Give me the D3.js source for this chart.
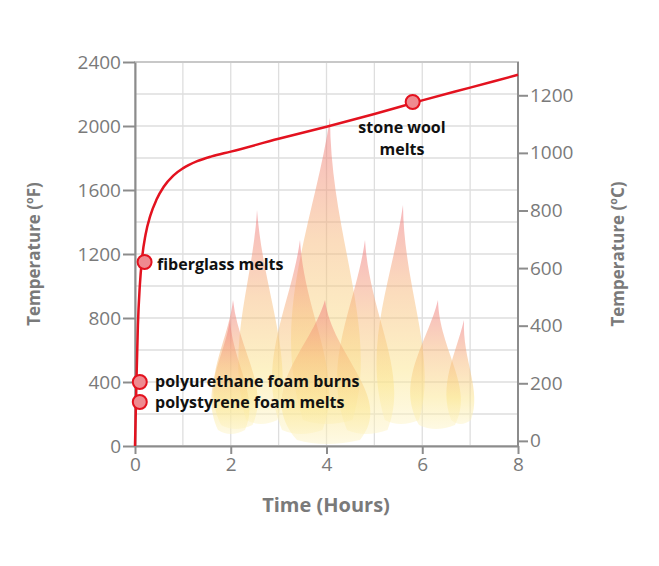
<!DOCTYPE html>
<html><head><meta charset="utf-8">
<script src="https://cdn.jsdelivr.net/npm/d3@7"></script>
<style>body{margin:0;background:#fff}text{font-family:"Open Sans",sans-serif}</style>
</head><body>
<svg id="chart" width="659" height="566"></svg>
<script>
// fire curve (hours, °F)
var curveT = [0, 0.03, 0.06, 0.1, 0.15, 0.22, 0.32, 0.45, 0.6, 0.8, 1.0, 1.3, 1.6, 2, 3, 4, 5, 6, 7, 8];
var curveF = [0, 400, 750, 1000, 1180, 1320, 1440, 1540, 1620, 1690, 1735, 1780, 1810, 1840, 1920, 1995, 2075, 2160, 2240, 2320];
var events = ["polystyrene foam melts", "polyurethane foam burns", "fiberglass melts", "stone wool melts"];
var eventT = [0.1, 0.1, 0.2, 5.8];
var eventF = [275, 400, 1150, 2150];
var fTicks = [0, 400, 800, 1200, 1600, 2000, 2400];
var cTicks = [0, 200, 400, 600, 800, 1000, 1200];
var tTicks = [0, 2, 4, 6, 8];

var svg = d3.select("#chart");
var x = d3.scaleLinear().domain([0, 8]).range([135, 518]);
var y = d3.scaleLinear().domain([0, 2400]).range([446, 62]);
function cToY(c){ return y(c * 1.8 + 32); }
var grey = "#8c8c8c";

// grid
var g = svg.append("g");
g.selectAll("line.v").data(d3.range(1, 9)).enter().append("line")
  .attr("x1", d => x(d)).attr("x2", d => x(d)).attr("y1", 62).attr("y2", 446)
  .attr("stroke", "#dedede").attr("stroke-width", 1.3);
g.selectAll("line.h").data(d3.range(200, 2600, 200)).enter().append("line")
  .attr("x1", 135).attr("x2", 518).attr("y1", d => y(d)).attr("y2", d => y(d))
  .attr("stroke", "#dedede").attr("stroke-width", 1.3);

// flames (decorative)
var defs = svg.append("defs");
var grad = defs.append("linearGradient").attr("id", "fl").attr("x1", 0).attr("x2", 0).attr("y1", 0).attr("y2", 1);
grad.append("stop").attr("offset", "0%").attr("stop-color", "#ee6f78");
grad.append("stop").attr("offset", "40%").attr("stop-color", "#f7b97a");
grad.append("stop").attr("offset", "75%").attr("stop-color", "#fbe58c");
grad.append("stop").attr("offset", "100%").attr("stop-color", "#fdf4c8");
function flame(cx, top, w, bottom, lean){
  var p = d3.path();
  p.moveTo(cx + lean, top);
  p.bezierCurveTo(cx - w * 0.2, top + (bottom - top) * 0.35, cx - w, bottom - (bottom - top) * 0.35, cx - w * 0.4, bottom);
  p.quadraticCurveTo(cx, bottom + 8, cx + w * 0.5, bottom);
  p.bezierCurveTo(cx + w, bottom - (bottom - top) * 0.3, cx + w * 0.1, top + (bottom - top) * 0.4, cx + lean, top);
  return p.toString();
}
var flames = [[325, 118, 55, 420, 5], [260, 210, 35, 420, -3], [400, 205, 38, 420, 3], [235, 300, 35, 425, -2], [435, 300, 40, 425, 3], [300, 240, 45, 430, 0], [365, 240, 45, 430, 0], [230, 320, 30, 430, 0], [460, 320, 22, 420, 4], [325, 300, 70, 440, 0]];
svg.append("g").selectAll("path").data(flames).enter().append("path")
  .attr("d", d => flame(d[0], d[1], d[2], d[3], d[4]))
  .attr("fill", "url(#fl)").attr("opacity", 0.5);

// plot frame
svg.append("rect").attr("x", 135).attr("y", 62).attr("width", 383).attr("height", 384)
  .attr("fill", "none").attr("stroke", "#c8c8c8").attr("stroke-width", 2);

// axes
function styleAxis(sel){
  sel.selectAll("path,line").attr("stroke", grey).attr("stroke-width", 2);
  sel.selectAll("text").attr("fill", "#7a7a7a").attr("font-size", 19);
}
var fmt = d3.format("d");
svg.append("g").attr("transform", "translate(135,0)")
  .call(d3.axisLeft(y).tickValues(fTicks).tickFormat(fmt).tickSize(12).tickSizeOuter(0).tickPadding(2)).call(styleAxis);
svg.append("g").attr("transform", "translate(518,0)")
  .call(d3.axisRight(d3.scaleLinear().domain([0, 1200]).range([cToY(0), cToY(1200)])).tickValues(cTicks).tickFormat(fmt).tickSize(10).tickSizeOuter(0).tickPadding(2)).call(styleAxis)
  .select(".domain").attr("d", "M0,62V446");
svg.append("g").attr("transform", "translate(0,446)")
  .call(d3.axisBottom(x).tickValues(tTicks).tickFormat(fmt).tickSize(8).tickSizeOuter(0).tickPadding(4)).call(styleAxis);

// axis titles
svg.append("text").attr("transform", "translate(40,254) rotate(-90)").attr("text-anchor", "middle")
  .attr("fill", "#7a7a7a").attr("font-size", 17).attr("font-weight", "bold").text("Temperature  (ºF)");
svg.append("text").attr("transform", "translate(624,254) rotate(-90)").attr("text-anchor", "middle")
  .attr("fill", "#7a7a7a").attr("font-size", 17).attr("font-weight", "bold").text("Temperature  (ºC)");
svg.append("text").attr("x", 326).attr("y", 512).attr("text-anchor", "middle")
  .attr("fill", "#7a7a7a").attr("font-size", 20).attr("font-weight", "bold").text("Time (Hours)");

// curve
var pts = curveT.map((t, i) => [x(t), y(curveF[i])]);
svg.append("path").attr("d", d3.line().curve(d3.curveMonotoneX)(pts))
  .attr("fill", "none").attr("stroke", "#e3121f").attr("stroke-width", 2.5);

// events
var ev = svg.append("g");
ev.selectAll("circle").data(events).enter().append("circle")
  .attr("cx", (d, i) => x(eventT[i])).attr("cy", (d, i) => y(eventF[i])).attr("r", 7)
  .attr("fill", "#ef8a90").attr("stroke", "#e3121f").attr("stroke-width", 2);
var lab = [[155, 408], [155, 387], [157, 270]];
ev.selectAll("text.l").data(events.slice(0, 3)).enter().append("text")
  .attr("x", (d, i) => lab[i][0]).attr("y", (d, i) => lab[i][1])
  .attr("font-size", 16).attr("font-weight", "bold").attr("fill", "#111").text(d => d);
ev.append("text").attr("x", 402).attr("y", 133).attr("text-anchor", "middle")
  .attr("font-size", 16).attr("font-weight", "bold").attr("fill", "#111").text("stone wool");
ev.append("text").attr("x", 402).attr("y", 155).attr("text-anchor", "middle")
  .attr("font-size", 16).attr("font-weight", "bold").attr("fill", "#111").text("melts");
</script>
</body></html>
